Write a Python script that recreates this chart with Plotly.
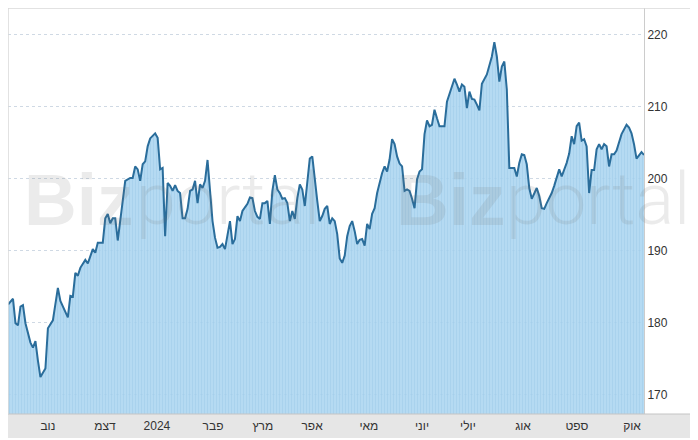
import plotly.graph_objects as go

# trading-session index (x) and closing price (y)
session = [
    0, 2, 3, 4, 5, 6, 7, 8, 9, 10,
    11, 12, 13, 15, 16, 18, 20, 21, 24, 25,
    26, 27, 28, 29, 30, 31, 32, 34, 35, 36,
    38, 39, 40, 41, 42, 43, 44, 46, 47, 49,
    50, 51, 52, 53, 54, 55, 56, 57, 58, 59,
    60, 61, 62, 63, 64, 65, 66, 67, 68, 69,
    70, 71, 72, 73, 74, 75, 76, 77, 78, 79,
    80, 81, 82, 83, 84, 85, 86, 87, 88, 89,
    90, 91, 92, 93, 94, 96, 97, 98, 99, 100,
    101, 102, 103, 104, 105, 106, 107, 108, 109, 110,
    111, 112, 113, 114, 115, 116, 117, 118, 119, 120,
    121, 122, 123, 124, 125, 126, 127, 128, 129, 130,
    131, 132, 133, 134, 135, 136, 137, 138, 139, 140,
    141, 142, 143, 144, 145, 146, 147, 148, 150, 151,
    152, 153, 154, 155, 156, 157, 158, 159, 160, 161,
    162, 163, 164, 165, 166, 167, 168, 169, 170, 171,
    172, 173, 174, 175, 176, 177, 179, 180, 181, 182,
    183, 184, 185, 186, 187, 188, 189, 190, 191, 192,
    194, 195, 196, 197, 198, 199, 200, 201, 203, 204,
    205, 206, 207, 208, 209, 210, 212, 213, 214, 215,
    216, 218, 219, 220, 221, 222, 224, 225, 226, 227,
    228, 229, 230, 231, 232, 233, 234, 235, 236, 237,
    238, 239, 240, 241, 242, 243, 244, 246, 247, 248,
    249, 250, 251, 252, 254, 255,
]

price = [
    182.5, 183.3, 179.9, 179.6, 182.2, 182.4, 179.9, 178.6, 177.2, 176.5,
    177.4, 174.7, 172.4, 173.6, 179.2, 180.3, 184.8, 183.0, 180.7, 183.7,
    183.6, 186.9, 186.5, 187.6, 188.2, 188.7, 188.2, 190.2, 189.7, 191.1,
    191.1, 194.5, 195.1, 193.8, 194.5, 194.5, 191.4, 197.2, 199.7, 200.1,
    200.1, 201.7, 201.3, 199.7, 202.0, 202.4, 204.5, 205.6, 205.9, 206.3,
    205.7, 201.3, 201.5, 192.0, 199.4, 199.0, 198.3, 199.1, 198.3, 198.0,
    194.5, 194.5, 195.8, 198.3, 198.5, 199.7, 196.6, 199.2, 198.7, 199.7,
    202.6, 198.3, 194.1, 191.8, 190.4, 190.5, 190.9, 190.2, 192.3, 194.1,
    190.9, 191.6, 194.8, 194.1, 195.5, 196.5, 197.4, 197.3, 195.5, 194.7,
    194.4, 196.6, 196.6, 196.9, 193.7, 198.3, 200.5, 198.5, 198.0, 197.2,
    197.3, 196.6, 194.1, 195.5, 194.4, 197.3, 199.2, 198.5, 196.2, 199.7,
    202.8, 203.1, 199.7, 196.9, 194.1, 194.8, 195.8, 196.2, 193.7, 194.5,
    194.1, 192.3, 188.9, 188.3, 189.3, 192.0, 193.4, 194.1, 192.7, 190.9,
    191.5, 191.6, 190.7, 193.7, 193.0, 195.1, 195.9, 198.0, 200.8, 201.7,
    201.0, 202.7, 205.5, 204.8, 203.1, 202.1, 201.7, 198.3, 198.5, 198.3,
    197.2, 195.9, 199.9, 201.0, 201.3, 206.2, 208.1, 207.3, 207.5, 209.6,
    208.4, 207.3, 207.3, 207.3, 210.7, 211.8, 213.9, 213.1, 212.1, 213.1,
    212.8, 209.8, 212.1, 211.1, 211.0, 210.3, 209.5, 213.2, 213.8, 214.5,
    217.0, 219.0, 217.0, 213.5, 215.6, 216.3, 212.4, 201.5, 201.5, 200.3,
    202.2, 203.4, 203.3, 202.0, 198.7, 197.2, 198.7, 197.6, 195.9, 195.8,
    196.6, 198.0, 199.0, 200.1, 201.3, 200.3, 202.2, 203.5, 205.9, 204.8,
    207.3, 207.8, 205.3, 205.5, 204.5, 198.0, 201.2, 201.2, 204.1, 204.8,
    204.1, 204.8, 204.5, 201.7, 203.4, 203.4, 203.9, 206.2, 206.9, 207.5,
    207.1, 206.3, 204.8, 202.8, 203.7, 203.3,
]

month_ticks = [16.0, 38.9, 59.7, 82.2, 102.2, 121.9, 144.7, 166.0, 184.4, 206.5, 228.1, 250.2]
month_labels = ["נוב", "דצמ", "2024", "פבר", "מרץ", "אפר", "מאי", "יוני", "יולי", "אוג", "ספט", "אוק"]
price_ticks = [170, 180, 190, 200, 210, 220]

FONT = "Liberation Sans, Arial, sans-serif"

fig = go.Figure()
fig.add_trace(go.Scatter(
    x=session, y=price, mode="lines",
    line=dict(color="#2a6d9b", width=2),
    fill="tozeroy",
    fillcolor="rgba(168,211,239,0.9)",
    fillpattern=dict(shape="|", fgcolor="#95c4e4", bgcolor="rgba(170,213,240,0.88)",
                     size=3, solidity=0.25),
    hoverinfo="skip",
))

PH = 406.0
PW = 636.0
shapes = [
    # bottom band for month labels
    dict(type="rect", xref="paper", yref="paper", x0=-4 / PW, x1=690 / PW,
         y0=-24 / PH, y1=0, fillcolor="#e6e6e6", line=dict(width=0), layer="below"),
    dict(type="line", xref="paper", yref="paper", x0=0, x1=690 / PW, y0=0, y1=0,
         line=dict(color="#c4c4c4", width=1)),
    # top and left frame
    dict(type="line", xref="paper", yref="paper", x0=0, x1=690 / PW, y0=1, y1=1,
         line=dict(color="#d9d9d9", width=1.5)),
    dict(type="line", xref="paper", yref="paper", x0=0, x1=0, y0=0, y1=1,
         line=dict(color="#d9d9d9", width=1.5)),
]

wm_color = "rgba(110,110,110,0.14)"
biz_font = dict(family="Liberation Sans, Arial, sans-serif", size=73, color=wm_color, weight="bold")
portal_font = dict(family="Roboto, Lato, sans-serif", size=72, color=wm_color, weight=300)
WM_Y = 0.529
annotations = []
for left, gap in ((14, 112), (386, 110)):
    annotations.append(dict(text="Biz", xref="paper", yref="paper", x=left / PW, y=WM_Y,
                            xanchor="left", yanchor="middle", showarrow=False, font=biz_font))
    annotations.append(dict(text="portal", xref="paper", yref="paper", x=(left + gap) / PW, y=WM_Y,
                            xanchor="left", yanchor="middle", showarrow=False, font=portal_font))

fig.update_layout(
    width=690, height=432,
    margin=dict(l=0, r=54, t=0, b=26),
    paper_bgcolor="white", plot_bgcolor="white",
    showlegend=False,
    shapes=shapes,
    annotations=annotations,
    font=dict(family=FONT, size=12, color="#333333"),
    xaxis=dict(
        range=[0, 255], showgrid=False, zeroline=False, showline=False,
        tickmode="array", tickvals=month_ticks, ticktext=month_labels,
        ticks="", ticklabelstandoff=3, tickfont=dict(size=12, color="#333333"),
    ),
    yaxis=dict(
        side="right", range=[167.27, 223.74], tickmode="array", tickvals=price_ticks,
        showgrid=True, gridcolor="#cfd9e4", griddash="dot", gridwidth=1,
        zeroline=False, showline=True, linecolor="#cccccc", linewidth=1,
        ticks="", tickfont=dict(size=12, color="#333333"),
    ),
)

fig.write_html("out.html")
